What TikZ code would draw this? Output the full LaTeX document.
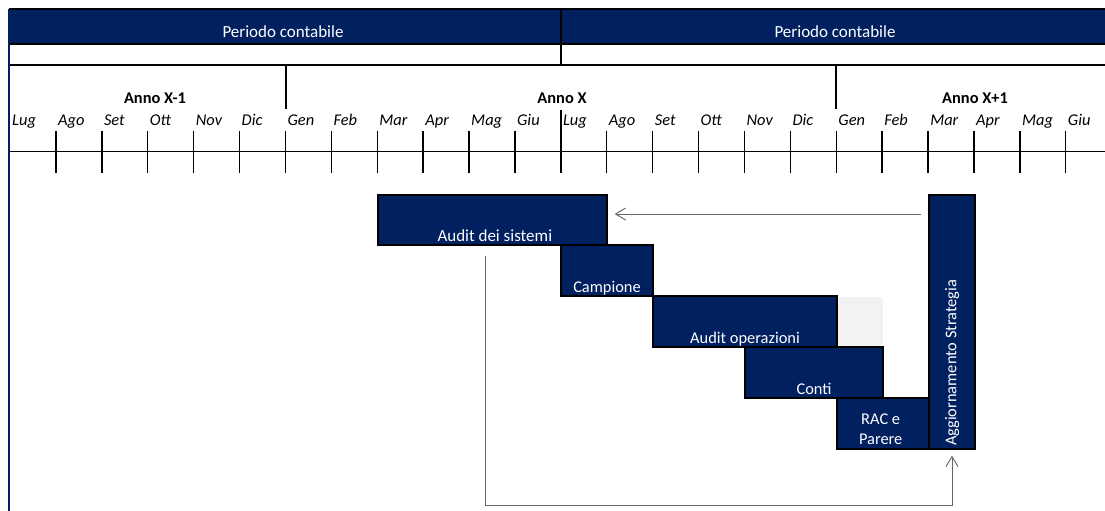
\documentclass[tikz,border=0pt]{standalone}
\usepackage{fontspec}
\setmainfont{Carlito}
\usetikzlibrary{fit,arrows.meta}
\definecolor{navy}{RGB}{0,32,96}

\begin{document}
\begin{tikzpicture}[x=0.03cm,y=-0.03cm,>={Straight Barb[length=0.3cm,width=0.36cm]},font=\fontsize{14}{17}\selectfont]
  \tikzstyle{phase}=[draw=black,line width=1.2pt,fill=navy,inner sep=0pt]
  \tikzstyle{phasetext}=[text=white,anchor=base,inner sep=0pt]
  \tikzstyle{month}=[font=\fontsize{14}{17}\selectfont\itshape,anchor=base west,inner sep=0pt]
  \tikzstyle{year}=[font=\fontsize{14}{17}\selectfont\bfseries,anchor=base,inner sep=0pt]
  \tikzstyle{link}=[->,draw=black!60,line width=0.8pt]
  \useasboundingbox (0,0) rectangle (1105,511);

  \fill[navy] (9,9) rectangle (1105,44);
  \draw[line width=1pt] (9,9) -- (1105,9) (9,44) -- (1105,44);
  \draw[line width=1.5pt] (9,65) -- (1105,65);
  \draw[line width=1pt] (561,9) -- (561,65);
  \draw[navy,line width=1pt] (9,9) -- (9,511);
  \node[text=white,anchor=base,inner sep=0pt,font=\fontsize{14.5}{17}\selectfont] (per1) at (283,38) {Periodo contabile};
  \node[text=white,anchor=base,inner sep=0pt,font=\fontsize{14.5}{17}\selectfont] (per2) at (835,38) {Periodo contabile};

  \draw[line width=1.2pt] (286,65) -- (286,109) (836,65) -- (836,109) (561,110) -- (561,131);
  \node[year] (y1) at (155,104) {Anno X-1};
  \node[year] (y2) at (562,104) {Anno X};
  \node[year] (y3) at (975,104) {Anno X+1};

  \foreach \m [count=\i from 0] in {Lug,Ago,Set,Ott,Nov,Dic,Gen,Feb,Mar,Apr,Mag,Giu,Lug,Ago,Set,Ott,Nov,Dic,Gen,Feb,Mar,Apr,Mag,Giu}
    \node[month] (m\i) at ({12+45.9*\i},126) {\m};
  \foreach \i in {1,...,23}
    \draw[line width=1.2pt] ({10+45.9*\i},131) -- ({10+45.9*\i},173);
  \draw[line width=0.6pt] (9,151) -- (1105,151);

  \node[phase,fit={(378,195) (607,245)}] (sis) {};
  \node[phase,fit={(561,245) (653,296)}] (cam) {};
  \node[phase,fit={(653,296) (837,347)}] (ope) {};
  \node[fill=black!5,inner sep=0pt,fit={(838,297) (883,346)}] (gap) {};
  \node[phase,fit={(745,347) (883,398)}] (con) {};
  \node[phase,fit={(837,398) (929,449)}] (rac) {};
  \node[phase,fit={(929,195) (975,449)}] (agg) {};

  \node[phasetext,font=\fontsize{14.5}{17}\selectfont] (sisT) at ([xshift=2pt,yshift=3.8pt]sis.south) {Audit dei sistemi};
  \node[phasetext] (camT) at ([yshift=3.8pt]cam.south) {Campione};
  \node[phasetext] (opeT) at ([yshift=3.8pt]ope.south) {Audit operazioni};
  \node[phasetext] (conT) at ([yshift=3.8pt]con.south) {Conti};
  \node[phasetext,align=center,anchor=south] (racT) at ([xshift=-2pt,yshift=4.5pt]rac.south) {RAC e\\Parere};
  \node[phasetext,rotate=90,anchor=west] (aggT) at ([yshift=3pt]agg.south) {Aggiornamento Strategia};

  \coordinate (updR) at (921,214);
  \draw[link,shorten >=0.21cm] (updR) -- (updR -| sis.east);
  \coordinate (sisB) at (485,256);
  \draw[link,shorten >=0.18cm] (sisB) -- (sisB |- 0,505) -| (agg.south);
\end{tikzpicture}
\end{document}
